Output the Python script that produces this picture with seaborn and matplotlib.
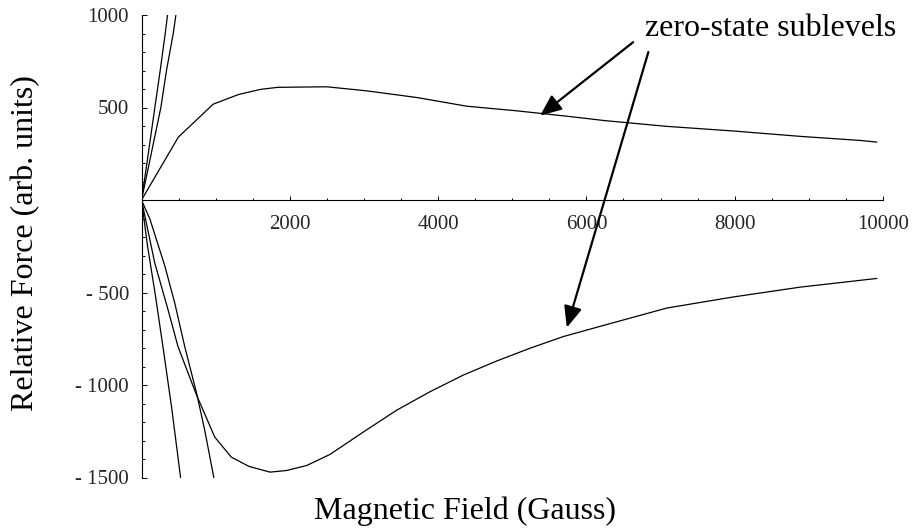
import matplotlib
matplotlib.use("Agg")
import matplotlib.pyplot as plt
import seaborn as sns
import pandas as pd

# Magnetic field (Gauss) and relative force for each sublevel curve
zero_up_B = [0, 497, 967, 1306, 1605, 1837, 2498, 3038, 3712, 4387, 5061,
             5736, 6250, 7085, 7983, 8883, 9692, 9917]
zero_up_F = [0, 340, 518, 570, 598, 609, 612, 590, 554, 507, 482,
             453, 429, 398, 373, 344, 322, 313]

zero_dn_B = [0, 178, 357, 492, 630, 742, 987, 1211, 1450, 1733, 1959, 2229,
             2543, 2992, 3442, 3892, 4342, 4792, 5241, 5690, 6185, 7085,
             7983, 8883, 9917]
zero_dn_F = [0, -339, -592, -792, -937, -1054, -1281, -1390, -1440, -1471,
             -1462, -1435, -1375, -1254, -1136, -1036, -946, -870, -801,
             -738, -683, -584, -524, -471, -424]

steep_up1_B = [0, 70, 180, 252, 320, 351]
steep_up1_F = [0, 190, 500, 700, 900, 1000]
steep_up2_B = [0, 100, 261, 337, 428, 464]
steep_up2_F = [0, 190, 500, 700, 900, 1000]

steep_dn1_B = [0, 81, 189, 292, 405, 527]
steep_dn1_F = [0, -248, -520, -801, -1118, -1500]
steep_dn2_B = [0, 113, 315, 448, 583, 744, 853, 975]
steep_dn2_F = [0, -103, -357, -556, -792, -1046, -1245, -1500]

x_ticks = [2000, 4000, 6000, 8000, 10000]
x_tick_labels = ["2000", "4000", "6000", "8000", "10000"]
y_ticks = [-1500, -1000, -500, 500, 1000]
y_tick_labels = ["- 1500", "- 1000", "- 500", "500", "1000"]

annotation = "zero-state sublevels"
x_label = "Magnetic Field (Gauss)"
y_label = "Relative Force (arb. units)"

sns.set_theme(style="white")
plt.rcParams["font.family"] = ["Liberation Serif", "DejaVu Serif"]

W, H = 914, 529
fig = plt.figure(figsize=(W / 100, H / 100), dpi=100)
ax_l, ax_r, ax_t, ax_b = 141.5, 883.0, 15.0, 477.5
ax = fig.add_axes([ax_l / W, 1 - ax_b / H, (ax_r - ax_l) / W, (ax_b - ax_t) / H])

curves = [
    (zero_up_B, zero_up_F),
    (zero_dn_B, zero_dn_F),
    (steep_up1_B, steep_up1_F),
    (steep_up2_B, steep_up2_F),
    (steep_dn1_B, steep_dn1_F),
    (steep_dn2_B, steep_dn2_F),
]
for b, f in curves:
    df = pd.DataFrame({"B": b, "F": f})
    sns.lineplot(data=df, x="B", y="F", ax=ax, color="black", lw=0.9,
                 sort=False, estimator=None)

ax.set_xlim(0, 10000)
ax.set_ylim(-1500, 1000)
ax.set_xlabel("")
ax.set_ylabel("")

# Axes crossing at the origin
for side in ("top", "right"):
    ax.spines[side].set_visible(False)
ax.spines["bottom"].set_position(("data", 0))
ax.spines["left"].set_position(("data", 0))
for side in ("bottom", "left"):
    ax.spines[side].set_color("black")
    ax.spines[side].set_linewidth(0.8)

ax.set_xticks(x_ticks)
ax.set_xticklabels(x_tick_labels)
ax.set_xticks(range(500, 10000, 500), minor=True)
ax.set_yticks(y_ticks)
ax.set_yticklabels(y_tick_labels)
ax.set_yticks([v for v in range(-1500, 1001, 100) if v % 500 != 0], minor=True)

ax.tick_params(axis="x", which="both", bottom=True, top=False)
ax.tick_params(axis="y", which="both", left=True, right=False)
ax.tick_params(axis="x", which="major", direction="in", length=3.0, width=0.7,
               color="black", pad=11, labelsize=15)
ax.tick_params(axis="x", which="minor", direction="in", length=1.8, width=0.7,
               color="black")
ax.tick_params(axis="y", which="major", direction="in", length=3.5, width=0.7,
               color="black", pad=9, labelsize=15)
ax.tick_params(axis="y", which="minor", direction="in", length=2.2, width=0.7,
               color="black")
ax.patch.set_alpha(0)

# Arrows pointing at the two zero-state curves
arrow_kw = dict(arrowstyle="-|>,head_length=1.3,head_width=0.55",
                mutation_scale=10, lw=1.6, color="black",
                shrinkA=0, shrinkB=0)
ax.annotate("", xy=(5376, 456), xytext=(6630, 853), arrowprops=arrow_kw,
            annotation_clip=False)
ax.annotate("", xy=(5736, -690), xytext=(6836, 800), arrowprops=arrow_kw,
            annotation_clip=False)

fig.text(645 / W, 1 - 36 / H, annotation, fontsize=23, ha="left",
         va="baseline", color="black")
fig.text(465 / W, 1 - 519 / H, x_label, fontsize=23, ha="center",
         va="baseline", color="black")
fig.text(26 / W, 1 - 243 / H, y_label, fontsize=23, ha="center",
         va="center", rotation=90, color="black")

fig.savefig("out.png", dpi=100, facecolor="white")
